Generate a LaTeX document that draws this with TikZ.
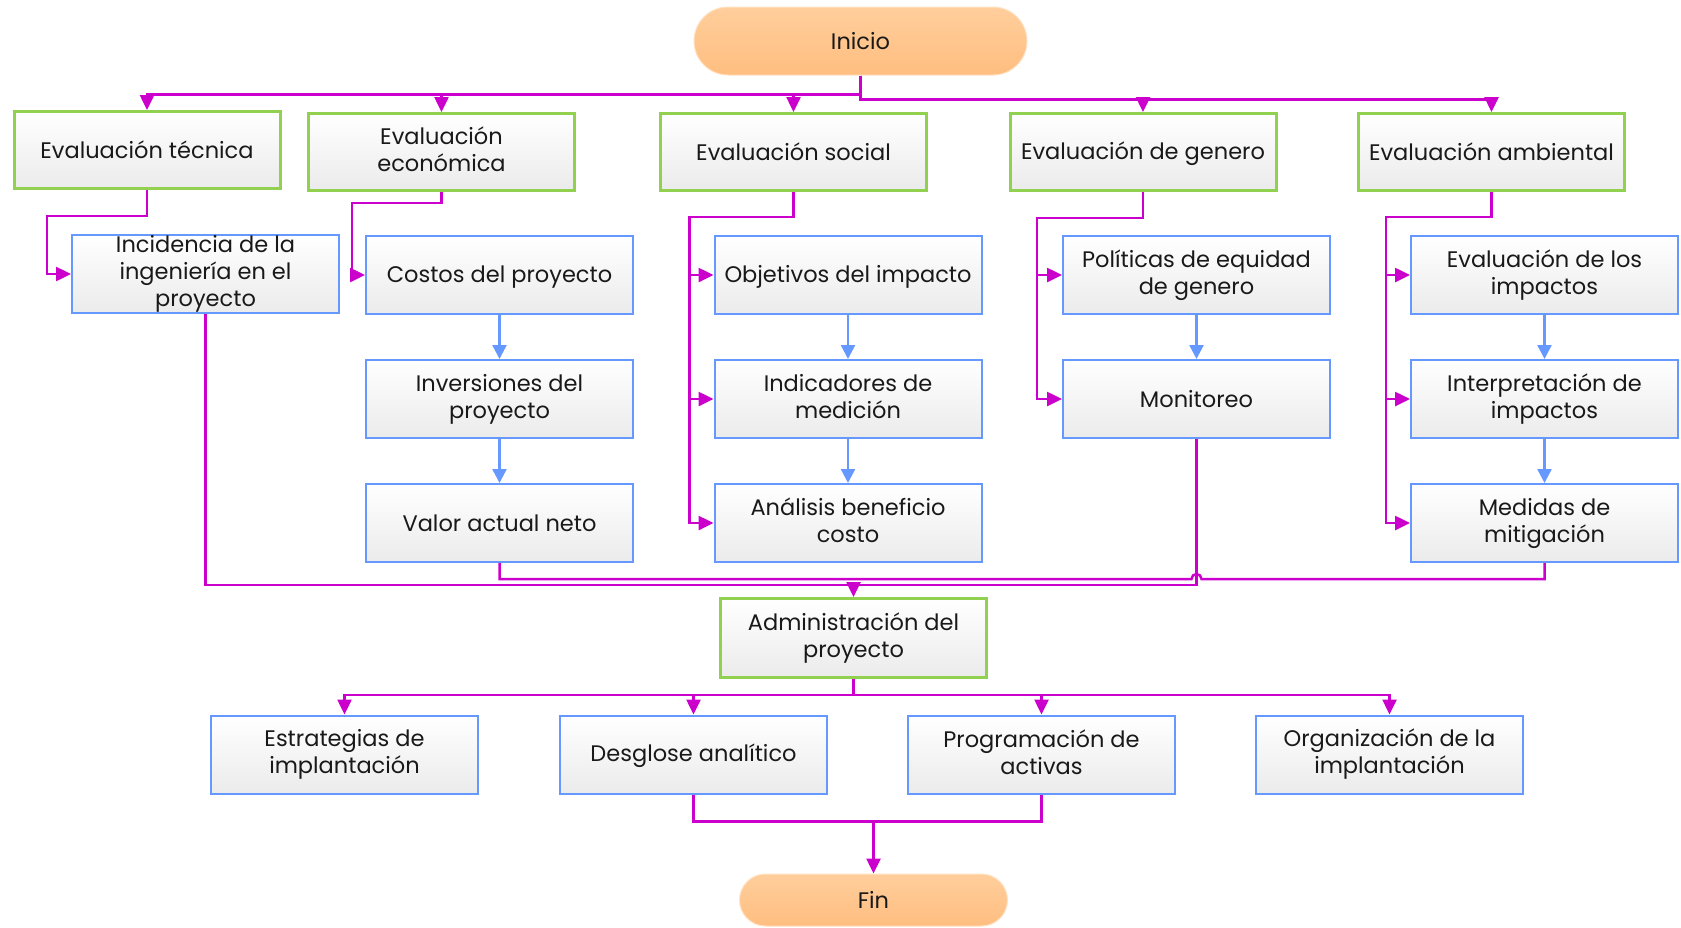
\documentclass[tikz,border=0pt]{standalone}
\usepackage{fontspec}
\setmainfont{Poppins}
\usepackage{tikz}
\usetikzlibrary{shapes,arrows.meta,positioning,calc}
\definecolor{starttop}{HTML}{FFCE9C}
\definecolor{startbot}{HTML}{FFBE80}
\definecolor{evalgreen}{HTML}{92D050}
\definecolor{taskblue}{HTML}{6699FF}
\definecolor{linkmag}{HTML}{CC00CC}
\definecolor{boxgray}{HTML}{EBEBEB}
\newcommand{\boxfont}{\fontsize{22.5}{27}\selectfont}
\newcommand{\boxstrut}{\rule[-5pt]{0pt}{26pt}}
\tikzstyle{startstop} = [rectangle, rounded corners=34pt, draw=starttop!60!white, line width=1pt,
    top color=starttop, bottom color=startbot, minimum width=333pt, minimum height=68pt,
    text=black!90, font=\boxfont]
\tikzstyle{evalblock} = [rectangle, draw=evalgreen, line width=3pt, top color=white,
    bottom color=boxgray, minimum width=266pt, minimum height=77pt, inner sep=0pt,
    align=center, text=black!90, font=\boxfont,
    execute at begin node=\boxstrut, execute at end node=\boxstrut]
\tikzstyle{taskblock} = [rectangle, draw=taskblue, line width=2pt, top color=white,
    bottom color=boxgray, minimum width=267pt, minimum height=78pt, inner sep=0pt,
    align=center, text=black!90, font=\boxfont,
    execute at begin node=\boxstrut, execute at end node=\boxstrut]
\tikzstyle{link} = [linkmag, line width=2.5pt, -{Triangle[length=15pt,width=14pt]}]
\tikzstyle{linkline} = [linkmag, line width=2.5pt]
\tikzstyle{blueflow} = [taskblue, line width=2.5pt, -{Triangle[length=14pt,width=14pt]}]

\begin{document}
\begin{tikzpicture}[x=1pt, y=1pt, node distance=44pt]
\useasboundingbox (0,0) rectangle (1681,-927);
\node[startstop] (ini) at (860.5,-41) {Inicio};
\node[evalblock] (et) at (147,-150) {Evaluación técnica};
\node[evalblock] (ee) at (441.5,-152) {Evaluación\\económica};
\node[evalblock] (es) at (793.5,-152) {Evaluación social};
\node[evalblock] (eg) at (1143,-152) {Evaluación de genero};
\node[evalblock] (ea) at (1491.5,-152) {Evaluación ambiental};

\node[taskblock] (inc) at (205.5,-274) {Incidencia de la\\ingeniería en el\\proyecto};

\node[taskblock] (cos) at (499.5,-275) {Costos del proyecto};
\node[taskblock, below=of cos] (inv) {Inversiones del\\proyecto};
\node[taskblock, below=of inv] (val) {Valor actual neto};

\node[taskblock] (obj) at (848,-275) {Objetivos del impacto};
\node[taskblock, below=of obj] (ind) {Indicadores de\\medición};
\node[taskblock, below=of ind] (ana) {Análisis beneficio\\costo};

\node[taskblock] (pol) at (1196.5,-275) {Políticas de equidad\\de genero};
\node[taskblock, below=of pol] (mon) {Monitoreo};

\node[taskblock] (evi) at (1544.5,-275) {Evaluación de los\\impactos};
\node[taskblock, below=of evi] (inp) {Interpretación de\\impactos};
\node[taskblock, below=of inp] (med) {Medidas de\\mitigación};

\node[evalblock, minimum height=79pt] (adm) at (853.5,-638) {Administración del\\proyecto};

\node[taskblock] (s1) at (344.5,-754.5) {Estrategias de\\implantación};
\node[taskblock] (s2) at (693.5,-754.5) {Desglose analítico};
\node[taskblock] (s3) at (1041.5,-754.5) {Programación de\\activas};
\node[taskblock] (s4) at (1389.5,-754.5) {Organización de la\\implantación};

\node[startstop, minimum width=268pt, minimum height=52pt, rounded corners=26pt] (fin) at (873.5,-900) {Fin};

\draw[link] (ini.south) -- ++(0,-19) -| (et.north);
\draw[link] (ini.south) -- ++(0,-19) -| (ee.north);
\draw[link] (ini.south) -- ++(0,-19) -| (es.north);
\draw[link] (ini.south) -- ++(0,-24) -| (eg.north);
\draw[link] (ini.south) -- ++(0,-24) -| (ea.north);

\coordinate (incin) at ($(inc.west)+(-24,0)$);
\draw[link] (et.south) -- ++(0,-26) -| (incin) -- (inc.west);

\coordinate (cosin) at ($(cos.west)+(-13,0)$);
\draw[link] (ee.south) -- ++(0,-11) -| (cosin) -- (cos.west);
\draw[blueflow] (cos) -- (inv);
\draw[blueflow] (inv) -- (val);

\coordinate (objin) at ($(obj.west)+(-24,0)$);
\coordinate (indin) at ($(ind.west)+(-24,0)$);
\coordinate (anain) at ($(ana.west)+(-24,0)$);
\draw[link] (es.south) -- ++(0,-25) -| (anain) -- (ana.west);
\draw[link] (objin) -- (obj.west);
\draw[link] (indin) -- (ind.west);
\draw[blueflow] (obj) -- (ind);
\draw[blueflow] (ind) -- (ana);

\coordinate (polin) at ($(pol.west)+(-25,0)$);
\coordinate (monin) at ($(mon.west)+(-25,0)$);
\draw[link] (eg.south) -- ++(0,-26) -| (monin) -- (mon.west);
\draw[link] (polin) -- (pol.west);
\draw[blueflow] (pol) -- (mon);

\coordinate (eviin) at ($(evi.west)+(-24,0)$);
\coordinate (inpin) at ($(inp.west)+(-24,0)$);
\coordinate (medin) at ($(med.west)+(-24,0)$);
\draw[link] (ea.south) -- ++(0,-25) -| (medin) -- (med.west);
\draw[link] (eviin) -- (evi.west);
\draw[link] (inpin) -- (inp.west);
\draw[blueflow] (evi) -- (inp);
\draw[blueflow] (inp) -- (med);

\coordinate (admin) at ($(adm.north)+(0,12)$);
\draw[linkline] (mon.south) |- (admin);
\draw[link] (inc.south) |- (admin) -- (adm.north);
\coordinate (vb) at ($(val.south)+(0,-16)$);
\coordinate (hopc) at (vb -| mon.south);
\draw[linkline] (val.south) -- (vb) -- ($(hopc)+(-5,0)$)
    arc[start angle=180, end angle=0, radius=5] -| (med.south);

\draw[link] (adm.south) -- ++(0,-16) -| (s1.north);
\draw[link] (adm.south) -- ++(0,-16) -| (s2.north);
\draw[link] (adm.south) -- ++(0,-16) -| (s3.north);
\draw[link] (adm.south) -- ++(0,-16) -| (s4.north);

\coordinate (finin) at ($(fin.north)+(0,52)$);
\draw[linkline] (s2.south) |- (finin);
\draw[linkline] (s3.south) |- (finin);
\draw[link] (finin) -- (fin.north);
\end{tikzpicture}
\end{document}
